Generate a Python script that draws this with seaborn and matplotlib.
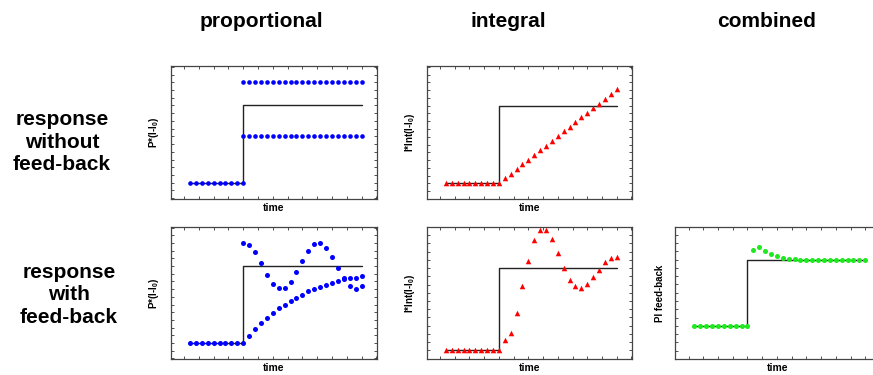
import seaborn as sns
import matplotlib.pyplot as plt
from matplotlib.ticker import MultipleLocator
import numpy as np

# time steps (step input switches on at t=9)
t_pre = list(range(0, 10))
t_post = list(range(9, 30))
t_after = list(range(10, 30))
step_t = [0, 9, 9, 29]
step_v = [0, 0, 1, 1]

baseline = [0.0] * 10

# proportional, no feed-back: two gain levels
prop_open_high = [1.30] * 21
prop_open_low = [0.60] * 21

# integral, no feed-back
integ_open = [0.065, 0.125, 0.185, 0.246, 0.306, 0.366, 0.427, 0.487, 0.547, 0.608,
              0.668, 0.728, 0.789, 0.849, 0.910, 0.965, 1.026, 1.090, 1.150, 1.216]

# proportional with feed-back: oscillating (high gain) and slow (low gain)
prop_fb_osc = [1.30, 1.28, 1.18, 1.04, 0.89, 0.77, 0.71, 0.71, 0.79, 0.92, 1.07,
               1.20, 1.29, 1.30, 1.24, 1.12, 0.97, 0.84, 0.74, 0.70, 0.74]
prop_fb_slow = [0.09, 0.18, 0.26, 0.33, 0.39, 0.45, 0.50, 0.55, 0.59, 0.63,
                0.67, 0.70, 0.73, 0.75, 0.78, 0.80, 0.83, 0.84, 0.85, 0.87]

# integral with feed-back
integ_fb = [0.13, 0.21, 0.45, 0.78, 1.09, 1.34, 1.46, 1.46, 1.35, 1.18,
            1.00, 0.86, 0.78, 0.76, 0.81, 0.89, 0.98, 1.07, 1.12, 1.14]

# combined PI feed-back
pi_fb = [1.15, 1.19, 1.13, 1.08, 1.05, 1.03, 1.015, 1.005, 1.0, 1.0,
         1.0, 1.0, 1.0, 1.0, 1.0, 1.0, 1.0, 1.0, 1.0, 1.0]

col_titles = ['proportional', 'integral', 'combined']
row_titles = ['response\nwithout\nfeed-back', 'response\nwith\nfeed-back']

sns.set_style('ticks')
plt.rcParams['font.family'] = ['Liberation Sans', 'DejaVu Sans']
plt.rcParams['text.color'] = 'black'
plt.rcParams['axes.labelcolor'] = 'black'
plt.rcParams['mathtext.fontset'] = 'custom'
plt.rcParams['mathtext.bf'] = 'Liberation Sans:bold'
plt.rcParams['mathtext.rm'] = 'Liberation Sans:bold'
plt.rcParams['mathtext.default'] = 'bf'

BLUE = '#0000ff'
RED = '#ff0000'
GREEN = '#1ee81e'

fig = plt.figure(figsize=(8.73, 3.75), dpi=100)
W, H = 873.0, 375.0


def make_ax(left, top, width, height):
    return fig.add_axes([left / W, 1 - (top + height) / H, width / W, height / H])


def style(ax, ylim, ylabel, ystep=0.1):
    ax.set_xlim(-3.2, 31.6)
    ax.set_ylim(*ylim)
    ax.set_xticks(np.arange(-1, 32, 2.5))
    ax.yaxis.set_major_locator(MultipleLocator(ystep))
    ax.tick_params(direction='in', length=2, width=0.6, color='#333333',
                   top=True, right=True, labelbottom=False, labelleft=False)
    for s in ax.spines.values():
        s.set_color('#444444')
        s.set_linewidth(0.9)
        s.set_visible(True)
    ax.set_xlabel('time', fontsize=7.5, fontweight='bold', labelpad=3)
    ax.set_ylabel(ylabel, fontsize=7, fontweight='bold', labelpad=7)


def step(ax):
    sns.lineplot(x=step_t, y=step_v, sort=False, estimator=None, color='#222222',
                 lw=1, ax=ax, zorder=2)


def dots(ax, x, y, color, marker='o', s=11):
    sns.scatterplot(x=x, y=y, color=color, marker=marker, s=s, linewidth=0,
                    ax=ax, zorder=3)


# top row
ax1 = make_ax(171, 66, 206, 133)
step(ax1)
dots(ax1, t_pre, baseline, BLUE)
dots(ax1, t_post, prop_open_high, BLUE)
dots(ax1, t_post, prop_open_low, BLUE)
style(ax1, (-0.21, 1.51), r'P*(I-I$_0$)')

ax2 = make_ax(427, 66, 205, 133)
step(ax2)
dots(ax2, t_pre, baseline, RED, marker='^', s=16)
dots(ax2, t_after, integ_open, RED, marker='^', s=16)
style(ax2, (-0.2, 1.51), r'I*Int(I-I$_0$)')

# bottom row
ax3 = make_ax(171, 227, 206, 132)
step(ax3)
dots(ax3, t_pre, baseline, BLUE, s=13)
dots(ax3, t_post, prop_fb_osc, BLUE, s=13)
dots(ax3, t_after, prop_fb_slow, BLUE, s=13)
style(ax3, (-0.21, 1.51), r'P*(I-I$_0$)')

ax4 = make_ax(427, 227, 205, 132)
step(ax4)
dots(ax4, t_pre, baseline, RED, marker='^', s=16)
dots(ax4, t_after, integ_fb, RED, marker='^', s=16)
style(ax4, (-0.105, 1.5), r'I*Int(I-I$_0$)')

ax5 = make_ax(675, 227, 205, 132)
step(ax5)
dots(ax5, t_pre, baseline, GREEN, s=13)
dots(ax5, t_after, pi_fb, GREEN, s=13)
style(ax5, (-0.5, 1.49), 'PI feed-back', ystep=0.125)
ax5.set_xlim(-3.3, 31.5)

# column and row headings
for x, txt in zip([261, 508, 767], col_titles):
    fig.text(x / W, 1 - 27 / H, txt, ha='center', va='baseline',
             fontsize=15, fontweight='bold')
for (x, y), txt in zip([(62, 142), (69, 295)], row_titles):
    fig.text(x / W, 1 - y / H, txt, ha='center', va='center',
             fontsize=15, fontweight='bold', linespacing=1.22)

fig.savefig('out.png', dpi=100)
